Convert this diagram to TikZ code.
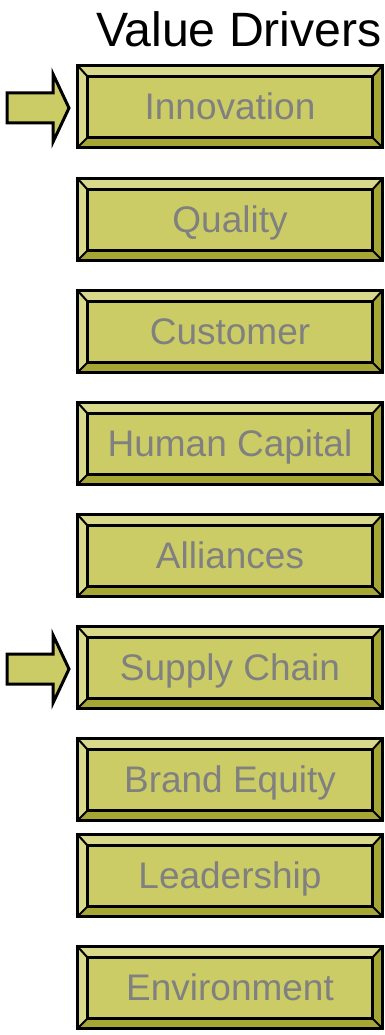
\documentclass[tikz,border=0pt]{standalone}
\usepackage{fontspec}
\setmainfont{Liberation Sans}
\usetikzlibrary{calc}
\definecolor{face}{HTML}{CCCC66}
\definecolor{bevlight}{HTML}{D9D98C}
\definecolor{bevdark}{HTML}{A6A635}
\definecolor{labelgray}{HTML}{808080}
\tikzset{
  drvbox/.style={rectangle, fill=face, minimum width=304pt, minimum height=81pt,
    inner sep=0pt, text height=26.5pt, text depth=0pt, text=labelgray,
    font=\fontsize{37}{44}\selectfont},
  edge/.style={draw=black, line width=3pt},
  diag/.style={draw=black, line width=2pt},
  pointer/.style={draw=black, fill=face, line width=3pt, line join=miter},
  title/.style={font=\fontsize{48.2}{58}\selectfont, inner sep=0pt, anchor=base east}
}
% bevelled button: name, top edge, label
\newcommand\drvbutton[3]{%
  \node[drvbox] (#1) at (230,#2+40.5) {#3};
  \coordinate (#1-a) at ($(#1.north west)+(10,11)$);
  \coordinate (#1-b) at ($(#1.north east)+(-10,11)$);
  \coordinate (#1-c) at ($(#1.south east)+(-10,-10)$);
  \coordinate (#1-d) at ($(#1.south west)+(10,-10)$);
  \fill[bevlight] (#1.north west) -- (#1.north east) -- (#1-b) -- (#1-a) -- cycle;
  \fill[bevlight] (#1.north west) -- (#1-a) -- (#1-d) -- (#1.south west) -- cycle;
  \fill[bevdark] (#1.south west) -- (#1-d) -- (#1-c) -- (#1.south east) -- cycle;
  \fill[bevdark] (#1.north east) -- (#1.south east) -- (#1-c) -- (#1-b) -- cycle;
  \draw[diag] (#1.north west) -- (#1-a) (#1.north east) -- (#1-b)
              (#1.south east) -- (#1-c) (#1.south west) -- (#1-d);
  \draw[edge] (#1-a) rectangle (#1-c);
  \draw[edge] (#1.north west) rectangle (#1.south east);
}
% block arrow ending at a tip coordinate
\newcommand\drvpointer[1]{%
  \draw[pointer] (#1) -- ++(-16,-34) -- ++(0,19) -- ++(-46,0) -- ++(0,30)
    -- ++(46,0) -- ++(0,19) -- cycle;
}
\begin{document}
\begin{tikzpicture}[x=1pt,y=-1pt]
  \useasboundingbox (0,0) rectangle (384,1035);
  \node[title] (heading) at (382,47) {Value Drivers};
  \drvbutton{innovation}{66}{Innovation}
  \drvbutton{quality}{179}{Quality}
  \drvbutton{customer}{291}{Customer}
  \drvbutton{human}{403}{Human Capital}
  \drvbutton{alliances}{515}{Alliances}
  \drvbutton{supply}{627}{Supply Chain}
  \drvbutton{brand}{739}{Brand Equity}
  \drvbutton{leadership}{835}{Leadership}
  \drvbutton{environment}{947}{Environment}
  \coordinate (tip1) at (69,108);
  \coordinate (tip2) at (69,669);
  \drvpointer{tip1}
  \drvpointer{tip2}
\end{tikzpicture}
\end{document}
